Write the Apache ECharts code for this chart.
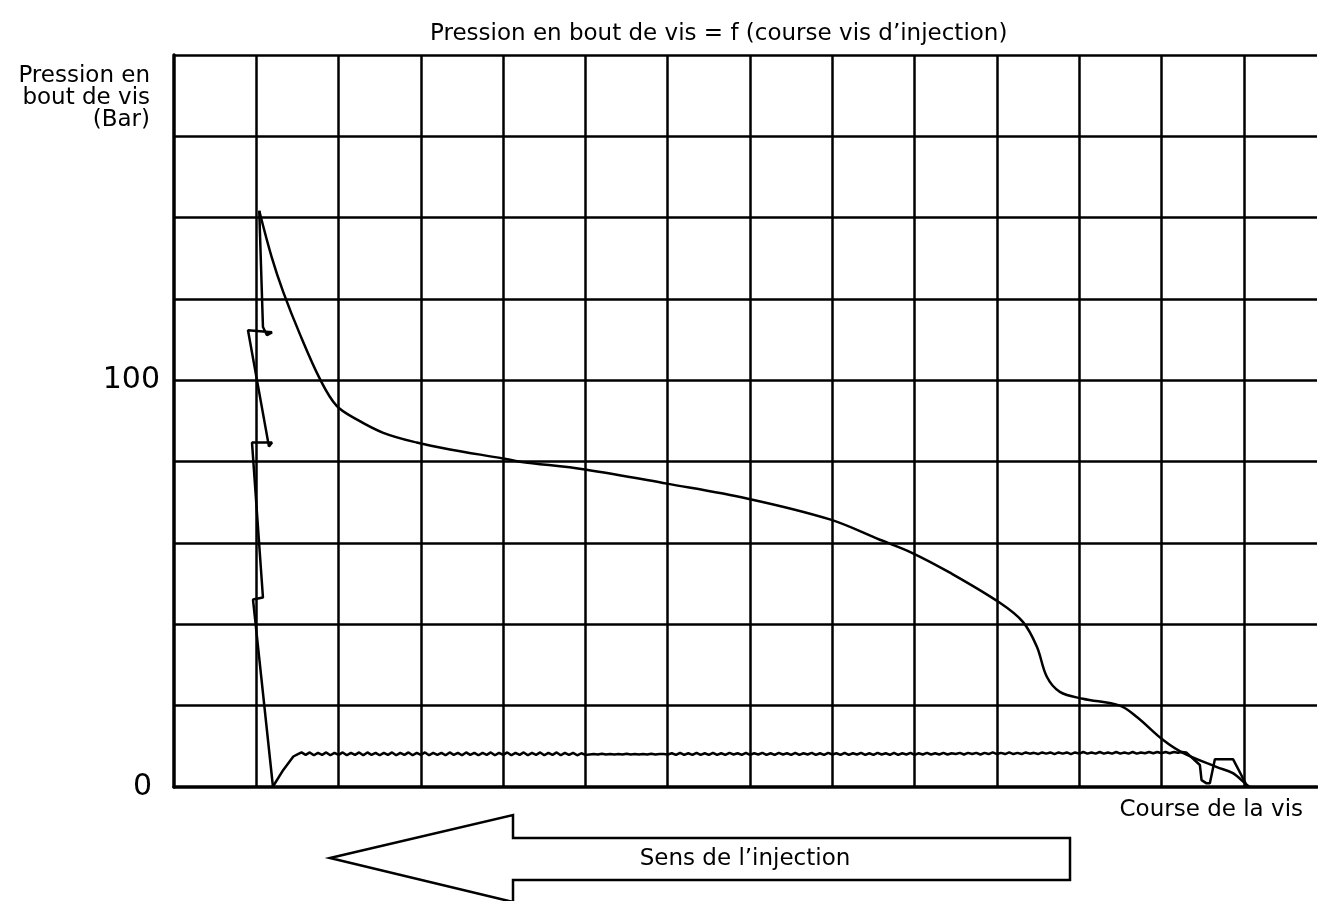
<!DOCTYPE html>
<html>
<head>
<meta charset="utf-8">
<script src="https://cdn.jsdelivr.net/npm/echarts/dist/echarts.min.js"></script>
<style>
html, body { margin: 0; padding: 0; background: #fff; }
#graph { width: 1318px; height: 901px; }
</style>
</head>
<body>
<div id="graph"></div>
<script>
var dom = document.getElementById("graph");
var myChart = echarts.init(dom);

// pression en bout de vis (courbe principale), x = course (divisions)
var mainX = [1.036, 1.187, 1.328, 1.531, 1.774, 1.977, 2.220, 2.543, 2.949, 3.354,
             3.998, 4.204, 4.994, 5.990, 6.975, 7.971, 8.578, 8.967, 9.429, 10.036,
             10.316, 10.486, 10.607, 10.765, 11.045, 11.494, 11.701, 12.017, 12.260, 12.673,
             12.868, 13.038, 13.074];
var mainY = [141.7, 130.3, 121.7, 111.3, 100.3, 93.7, 90.4, 87.1, 84.7, 83.0,
             80.8, 80.0, 78.1, 74.6, 70.9, 65.8, 60.8, 57.6, 52.7, 45.3,
             40.6, 34.5, 27.1, 23.4, 21.7, 20.0, 17.2, 11.6, 8.4, 4.9,
             3.4, 0.5, 0];

// trace en escalier pres du pic (ordre du trace)
var stepX = [1.036, 1.081, 1.130, 1.191, 0.899, 1.154, 1.191, 0.948, 1.081, 0.960, 1.203];
var stepY = [141.7, 113.1, 111.1, 111.8, 112.3, 83.7, 84.7, 84.7, 46.6, 46.1, 0];

// courbe basse : montee, palier ondule, fin
var lowStartX = [1.199, 1.328, 1.450];
var lowStartY = [0, 4.2, 7.5];
var plateauFrom = 1.50, plateauStep = 0.05;
var plateauY = [
  8.0,8.5,7.9,8.5,7.8,8.4,7.9,8.5,7.8,8.4,
  7.9,8.5,7.8,8.4,7.9,8.5,7.8,8.5,7.9,8.4,
  7.8,8.4,7.9,8.5,7.8,8.4,7.9,8.5,7.8,8.4,
  7.9,8.5,7.8,8.4,7.9,8.4,7.8,8.5,7.9,8.4,
  7.8,8.5,7.9,8.4,7.8,8.4,7.9,8.5,7.8,8.4,
  7.9,8.5,7.8,8.4,7.9,8.5,7.8,8.4,7.9,8.5,
  7.8,8.4,7.9,8.5,7.8,8.4,7.9,8.4,7.8,8.3,
  7.9,
  8.0,8.1,8.0,8.2,8.0,8.1,8.0,8.1,8.0,8.2,
  8.0,8.1,8.0,8.1,8.0,8.2,8.0,8.1,8.1,8.0,
  8.3,7.9,8.4,7.9,8.3,7.9,8.4,7.9,8.3,7.9,
  8.4,7.9,8.3,7.9,8.4,8.0,8.3,7.9,8.4,7.9,
  8.3,8.0,8.4,7.9,8.3,7.9,8.4,8.0,8.3,7.9,
  8.4,7.9,8.3,8.0,8.4,7.9,8.3,7.9,8.4,8.0,
  8.3,7.9,8.4,7.9,8.3,8.0,8.4,7.9,8.3,7.9,
  8.4,8.0,8.3,7.9,8.4,7.9,8.3,8.0,8.4,7.9,
  8.3,8.0,8.4,8.0,8.3,8.0,8.4,8.0,8.3,8.1,
  8.4,8.0,8.4,8.1,8.4,8.0,8.4,8.1,8.5,8.1,
  8.4,8.1,8.5,8.1,8.4,8.1,8.5,8.2,8.4,8.1,
  8.5,8.2,8.5,8.1,8.5,8.2,8.5,8.1,8.5,8.2,
  8.6,8.2,8.5,8.2,8.6,8.2,8.5,8.2,8.6,8.2,
  8.5,8.2,8.6,8.2,8.5,8.3,8.6,8.3,8.6,8.3,
  8.6,8.3,8.6,8.4,8.6,8.5
];
var lowEndX = [12.467, 12.487, 12.548, 12.588, 12.649, 12.871, 13.033];
var lowEndY = [5.4, 1.7, 0.9, 0.9, 6.8, 6.8, 0.5];

// graduations affichees sur l'axe des pressions
var yTickLabels = {0: '0', 100: '100'};

function pairs(xs, ys) {
    var out = [];
    for (var i = 0; i < xs.length; i++) out.push([xs[i], ys[i]]);
    return out;
}

var lowData = pairs(lowStartX, lowStartY);
for (var k = 0; k < plateauY.length; k++) {
    lowData.push([+(plateauFrom + k * plateauStep).toFixed(3), plateauY[k]]);
}
lowData = lowData.concat(pairs(lowEndX, lowEndY));

var font = 'DejaVu Sans';
var lineStyle = {color: '#000', width: 2.5};

var option = {
    animation: false,
    backgroundColor: '#fff',
    title: {
        text: 'Pression en bout de vis = f (course vis d\u2019injection)',
        left: 425,
        top: 18,
        textStyle: {fontFamily: font, fontSize: 23, fontWeight: 'normal', color: '#000'}
    },
    grid: {left: 174, right: 1, top: 55, bottom: 114, containLabel: false},
    xAxis: {
        type: 'value',
        min: 0,
        max: 13.89,
        interval: 1,
        name: 'Course de la vis',
        nameLocation: 'end',
        nameGap: 0,
        nameTextStyle: {fontFamily: font, fontSize: 23, color: '#000',
                        align: 'right', verticalAlign: 'top', padding: [12, 14, 0, 0]},
        axisLine: {lineStyle: {color: '#000', width: 3.5}},
        axisTick: {show: false},
        axisLabel: {show: false},
        splitLine: {show: true, showMinLine: false, showMaxLine: false,
                    lineStyle: {color: '#000', width: 2.5}}
    },
    yAxis: {
        type: 'value',
        min: 0,
        max: 180,
        interval: 20,
        name: 'Pression en\nbout de vis\n(Bar)',
        nameLocation: 'end',
        nameGap: -10,
        nameTextStyle: {fontFamily: font, fontSize: 23, color: '#000', lineHeight: 22,
                        align: 'right', verticalAlign: 'top', padding: [0, 24, 0, 0]},
        axisLine: {show: true, lineStyle: {color: '#000', width: 3.5}},
        axisTick: {show: false},
        axisLabel: {
            margin: 14,
            color: '#000',
            fontFamily: font,
            fontSize: 30,
            formatter: function (v) {
                if (v === 0) return '{z|' + yTickLabels[0] + '}';
                return yTickLabels[v] || '';
            },
            rich: {z: {fontFamily: font, fontSize: 30, color: '#000', padding: [0, 8, 0, 0]}}
        },
        splitLine: {show: true, showMinLine: false, lineStyle: {color: '#000', width: 2.5}}
    },
    graphic: [
        {
            type: 'polygon',
            shape: {points: [[330, 858], [513, 815], [513, 838], [1070, 838], [1070, 880],
                             [513, 880], [513, 902]]},
            style: {fill: '#fff', stroke: '#000', lineWidth: 2.5}
        },
        {
            type: 'text',
            x: 745,
            y: 859,
            style: {text: 'Sens de l\u2019injection', fontFamily: font, fontSize: 23,
                    fill: '#000', align: 'center', verticalAlign: 'middle'}
        }
    ],
    series: [
        {
            name: 'pression',
            type: 'line',
            data: pairs(mainX, mainY),
            symbol: 'none',
            smooth: 0.35,
            lineStyle: lineStyle
        },
        {
            name: 'escalier',
            type: 'line',
            data: pairs(stepX, stepY),
            symbol: 'none',
            lineStyle: lineStyle
        },
        {
            name: 'bas',
            type: 'line',
            data: lowData,
            symbol: 'none',
            lineStyle: lineStyle
        }
    ]
};

myChart.setOption(option, true);
</script>
</body>
</html>
